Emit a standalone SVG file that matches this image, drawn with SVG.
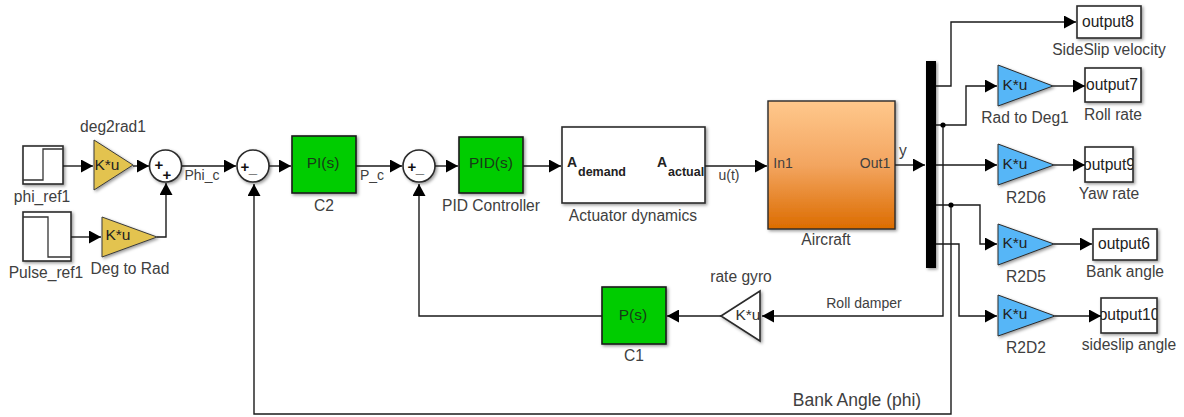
<svg xmlns="http://www.w3.org/2000/svg" width="1184" height="417" viewBox="0 0 1184 417">
<style>
text{font-family:"Liberation Sans",Arial,sans-serif;font-size:15.600px;fill:#404040;text-anchor:middle}
.b{fill:#fff;stroke:#2a2a2a;stroke-width:1.6}
.g{fill:#00cc00;stroke:#1a1a1a;stroke-width:1.6}
.y{fill:#e3c34f;stroke:#3a3a3a;stroke-width:1}
.c{fill:#56b6f7;stroke:#2a2a2a;stroke-width:1}
.w{fill:none;stroke:#1a1a1a;stroke-width:1.4}
.s{fill:none;stroke:#333;stroke-width:1.3}
.k{fill:#173b17;font-size:15.500px}
.t{fill:#222;font-size:15.500px}
.o{fill:#222}
.sg{fill:#111;font-size:15px;font-weight:bold}
.sm{font-size:14px}
.bd{font-weight:bold;fill:#222;text-anchor:start}
</style>
<defs>
<filter id="sh" x="-20%" y="-20%" width="150%" height="150%"><feDropShadow dx="1.500" dy="1.500" stdDeviation="1.500" flood-color="#000" flood-opacity=".4"/></filter>
<linearGradient id="og" x1="0" y1="0" x2="0" y2="1"><stop offset="0" stop-color="#ffc88c"/><stop offset=".5" stop-color="#f3a560"/><stop offset="1" stop-color="#dc6c00"/></linearGradient>
<marker id="a" markerUnits="userSpaceOnUse" markerWidth="13" markerHeight="13" refX="12" refY="6.500" orient="auto"><path d="M0 0L12 6.500L0 13Z" fill="#000"/></marker>
<clipPath id="c9"><rect x="1085" y="147" width="48" height="35"/></clipPath>
<clipPath id="c10"><rect x="1101" y="298" width="56" height="35"/></clipPath>
</defs>
<g id="phi_ref1"><rect class="b" x="23" y="146" width="40" height="38" filter="url(#sh)"/><path class="s" d="M23 180H43V149H63"/><text x="42" y="202">phi_ref1</text></g>
<g id="pulse_ref1"><rect class="b" x="23" y="212" width="48" height="49" filter="url(#sh)"/><path class="s" d="M23 217H48V257H71"/><text x="46" y="278">Pulse_ref1</text></g>
<g id="deg2rad1"><path class="y" d="M94 140V190L133 165Z" filter="url(#sh)"/><text class="t" x="107" y="170">K*u</text><text x="113" y="132">deg2rad1</text></g>
<g id="deg_to_rad"><path class="y" d="M102 217V257L157 237Z" filter="url(#sh)"/><text class="t" x="118" y="240">K*u</text><text x="130" y="274">Deg to Rad</text></g>
<g id="sum1"><circle class="b" cx="165.500" cy="166" r="16" filter="url(#sh)"/><text x="159" y="170" class="sg">+</text><text x="167" y="180" class="sg">+</text></g>
<g id="sum2"><circle class="b" cx="253" cy="166" r="16" filter="url(#sh)"/><text x="245" y="172" class="sg">+</text><text x="253" y="173" class="sg">_</text></g>
<g id="c2"><rect class="g" x="292" y="136" width="64" height="57" filter="url(#sh)"/><text class="k" x="323" y="168">PI(s)</text><text x="324" y="211">C2</text></g>
<g id="sum3"><circle class="b" cx="419" cy="166" r="16" filter="url(#sh)"/><text x="412" y="172" class="sg">+</text><text x="420" y="173" class="sg">_</text></g>
<g id="pid"><rect class="g" x="459" y="137" width="64" height="56" filter="url(#sh)"/><text class="k" x="491" y="168">PID(s)</text><text x="491" y="211">PID Controller</text></g>
<g id="actuator"><rect class="b" x="562" y="127" width="143" height="76" filter="url(#sh)"/><text class="bd" x="567" y="167" style="font-size:14px">A</text><text class="bd" x="578" y="176" style="font-size:12.500px">demand</text><text class="bd" x="657" y="167" style="font-size:14px">A</text><text class="bd" x="668" y="176" style="font-size:12.500px">actual</text><text x="633" y="221">Actuator dynamics</text></g>
<g id="aircraft"><rect x="768" y="101" width="127" height="128" fill="url(#og)" stroke="#2a2a2a" stroke-width="1.400" filter="url(#sh)"/><text x="783" y="168" class="sm">In1</text><text x="875" y="168" class="sm">Out1</text><text x="826" y="245">Aircraft</text></g>
<g id="mux"><rect x="926" y="61" width="10" height="207" fill="#000" filter="url(#sh)"/></g>
<g id="rad_to_deg1"><path class="c" d="M998 65V106L1053 86Z" filter="url(#sh)"/><text class="t" x="1015" y="90">K*u</text><text x="1025" y="123">Rad to Deg1</text></g>
<g id="r2d6"><path class="c" d="M998 144V185L1054 165Z" filter="url(#sh)"/><text class="t" x="1015" y="169">K*u</text><text x="1026" y="203">R2D6</text></g>
<g id="r2d5"><path class="c" d="M998 224V265L1054 244Z" filter="url(#sh)"/><text class="t" x="1015" y="248">K*u</text><text x="1026" y="282">R2D5</text></g>
<g id="r2d2"><path class="c" d="M998 295V336L1055 316Z" filter="url(#sh)"/><text class="t" x="1015" y="319">K*u</text><text x="1026" y="353">R2D2</text></g>
<g id="output8"><rect class="b" x="1077" y="6" width="64" height="32" filter="url(#sh)"/><text class="o" x="1108" y="27">output8</text><text x="1109" y="55">SideSlip velocity</text></g>
<g id="output7"><rect class="b" x="1085" y="68" width="56" height="34" filter="url(#sh)"/><text class="o" x="1112" y="90">output7</text><text x="1113" y="120">Roll rate</text></g>
<g id="output9"><rect class="b" x="1085" y="147" width="48" height="35" filter="url(#sh)"/><text class="o" x="1109" y="170" clip-path="url(#c9)">output9</text><text x="1109" y="199">Yaw rate</text></g>
<g id="output6"><rect class="b" x="1093" y="229" width="64" height="31" filter="url(#sh)"/><text class="o" x="1124" y="249">output6</text><text x="1125" y="277">Bank angle</text></g>
<g id="output10"><rect class="b" x="1101" y="298" width="56" height="35" filter="url(#sh)"/><text class="o" x="1129" y="320" clip-path="url(#c10)">output10</text><text x="1129" y="350">sideslip angle</text></g>
<g id="c1"><rect class="g" x="602" y="287" width="64" height="57" filter="url(#sh)"/><text class="k" x="633" y="320">P(s)</text><text x="634" y="361">C1</text></g>
<g id="rate_gyro"><path class="b" d="M721 316L760 291V341Z" filter="url(#sh)"/><text class="t" x="748" y="320" style="fill:#333">K*u</text><text x="741" y="282">rate gyro</text></g>
<g id="connectors">
<path class="w" d="M63 166H93" marker-end="url(#a)"/>
<path class="w" d="M133 166H149" marker-end="url(#a)"/>
<path class="w" d="M71 237H101" marker-end="url(#a)"/>
<path class="w" d="M157 237H166V183" marker-end="url(#a)"/>
<path class="w" d="M182 166H236" marker-end="url(#a)"/>
<path class="w" d="M269 166H291" marker-end="url(#a)"/>
<path class="w" d="M356 166H402" marker-end="url(#a)"/>
<path class="w" d="M435 166H458" marker-end="url(#a)"/>
<path class="w" d="M523 166H561" marker-end="url(#a)"/>
<path class="w" d="M705 166H767" marker-end="url(#a)"/>
<path class="w" d="M895 165H925" marker-end="url(#a)"/>
<path class="w" d="M936 86H951V22H1076" marker-end="url(#a)"/>
<path class="w" d="M936 125H966V86H997" marker-end="url(#a)"/>
<path class="w" d="M936 165H997" marker-end="url(#a)"/>
<path class="w" d="M936 205H980V244H997" marker-end="url(#a)"/>
<path class="w" d="M936 244H959V316H997" marker-end="url(#a)"/>
<path class="w" d="M1053 86H1085" marker-end="url(#a)"/>
<path class="w" d="M1054 165H1085" marker-end="url(#a)"/>
<path class="w" d="M1054 244H1092" marker-end="url(#a)"/>
<path class="w" d="M1055 316H1101" marker-end="url(#a)"/>
<path class="w" d="M943 125V316H762" marker-end="url(#a)"/>
<path class="w" d="M721 316H667" marker-end="url(#a)"/>
<path class="w" d="M602 316H419V184" marker-end="url(#a)"/>
<path class="w" d="M951 205V414H254V184" marker-end="url(#a)"/>
<circle cx="943" cy="125" r="2.600" fill="#000"/>
<circle cx="951" cy="205" r="2.600" fill="#000"/>
</g>
<g id="labels">
<text x="202" y="180" class="sm">Phi_c</text><text x="372" y="180" class="sm">P_c</text><text x="729" y="180" class="sm">u(t)</text><text x="903" y="156">y</text>
<text x="864" y="308" class="sm">Roll damper</text><text x="857" y="406" style="font-size:17.500px">Bank Angle (phi)</text>
</g>
</svg>
